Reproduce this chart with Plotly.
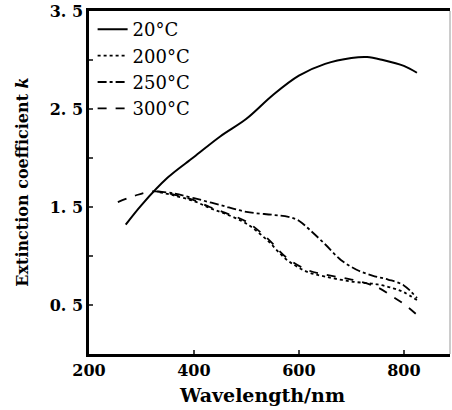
import plotly.graph_objects as go

# 20 °C
wl_20 = [270, 300, 350, 400, 450, 500, 550, 600, 650, 700, 730, 760, 800, 825]
k_20 = [1.32, 1.52, 1.80, 2.01, 2.22, 2.40, 2.64, 2.84, 2.96, 3.02, 3.03, 3.00, 2.94, 2.87]

# 200 °C
wl_200 = [335, 360, 400, 430, 460, 500, 540, 575, 615, 650, 700, 750, 780, 800, 825]
k_200 = [1.65, 1.62, 1.56, 1.49, 1.43, 1.33, 1.16, 0.97, 0.84, 0.79, 0.74, 0.71, 0.67, 0.63, 0.55]

# 250 °C
wl_250 = [330, 360, 400, 450, 500, 550, 580, 600, 620, 650, 680, 710, 740, 770, 800, 825]
k_250 = [1.66, 1.64, 1.59, 1.52, 1.45, 1.42, 1.40, 1.36, 1.27, 1.12, 0.96, 0.86, 0.80, 0.76, 0.70, 0.57]

# 300 °C
wl_300 = [255, 290, 325, 360, 400, 430, 460, 500, 540, 575, 615, 650, 700, 750, 780, 800, 825]
k_300 = [1.55, 1.62, 1.66, 1.63, 1.57, 1.50, 1.44, 1.35, 1.18, 0.99, 0.86, 0.81, 0.76, 0.68, 0.58, 0.51, 0.40]

x_ticks = [200, 400, 600, 800]
y_ticks = [0.5, 1.0, 1.5, 2.0, 2.5, 3.0, 3.5]
y_ticktext = ["0. 5", "", "1. 5", "", "2. 5", "", "3. 5"]

FONT = "DejaVu Serif"

fig = go.Figure()
fig.add_trace(go.Scatter(x=wl_20, y=k_20, mode="lines", name="20°C",
                         line=dict(color="black", width=2, shape="spline")))
fig.add_trace(go.Scatter(x=wl_200, y=k_200, mode="lines", name="200°C",
                         line=dict(color="black", width=1.8, dash="dot", shape="spline")))
fig.add_trace(go.Scatter(x=wl_250, y=k_250, mode="lines", name="250°C",
                         line=dict(color="black", width=1.8, dash="dashdot", shape="spline")))
fig.add_trace(go.Scatter(x=wl_300, y=k_300, mode="lines", name="300°C",
                         line=dict(color="black", width=1.8, dash="dash", shape="spline")))

tickfont = dict(size=16, family=FONT, weight="bold")

fig.update_layout(
    width=452, height=410,
    margin=dict(l=89, r=2, t=11, b=56),
    paper_bgcolor="white", plot_bgcolor="white",
    font=dict(family=FONT, color="black", size=17),
    showlegend=True,
    legend=dict(x=0.01, y=1.0, xanchor="left", yanchor="top",
                bgcolor="rgba(0,0,0,0)", font=dict(size=18, family=FONT),
                tracegroupgap=0, itemwidth=30),
    xaxis=dict(range=[200, 888], tickvals=x_ticks, ticks="inside", ticklen=4,
               tickwidth=1.5, showgrid=False, zeroline=False,
               showline=True, linewidth=2.5, linecolor="black", mirror=True,
               tickfont=tickfont),
    yaxis=dict(range=[0, 3.5], tickvals=y_ticks, ticktext=y_ticktext,
               ticks="inside", ticklen=4, tickwidth=1.5, showgrid=False,
               zeroline=False, showline=True, linewidth=2.5, linecolor="black",
               tickfont=tickfont),
    shapes=[dict(type="line", xref="paper", yref="paper", x0=1, x1=1, y0=0, y1=1,
                 line=dict(color="#999999", width=1))],
    annotations=[
        dict(text="<b>Wavelength/nm</b>", xref="paper", yref="paper",
             x=0.48, y=-0.12, xanchor="center", yanchor="middle", showarrow=False,
             font=dict(size=19, family=FONT)),
        dict(text="<b>Extinction coefficient <i>k</i></b>", xref="paper", yref="paper",
             x=-0.185, y=0.5, xanchor="center", yanchor="middle", textangle=-90,
             showarrow=False, font=dict(size=16, family=FONT)),
    ],
)

fig.write_html("out.html", config={"displayModeBar": False},
               post_script="document.body.style.margin='0';")
